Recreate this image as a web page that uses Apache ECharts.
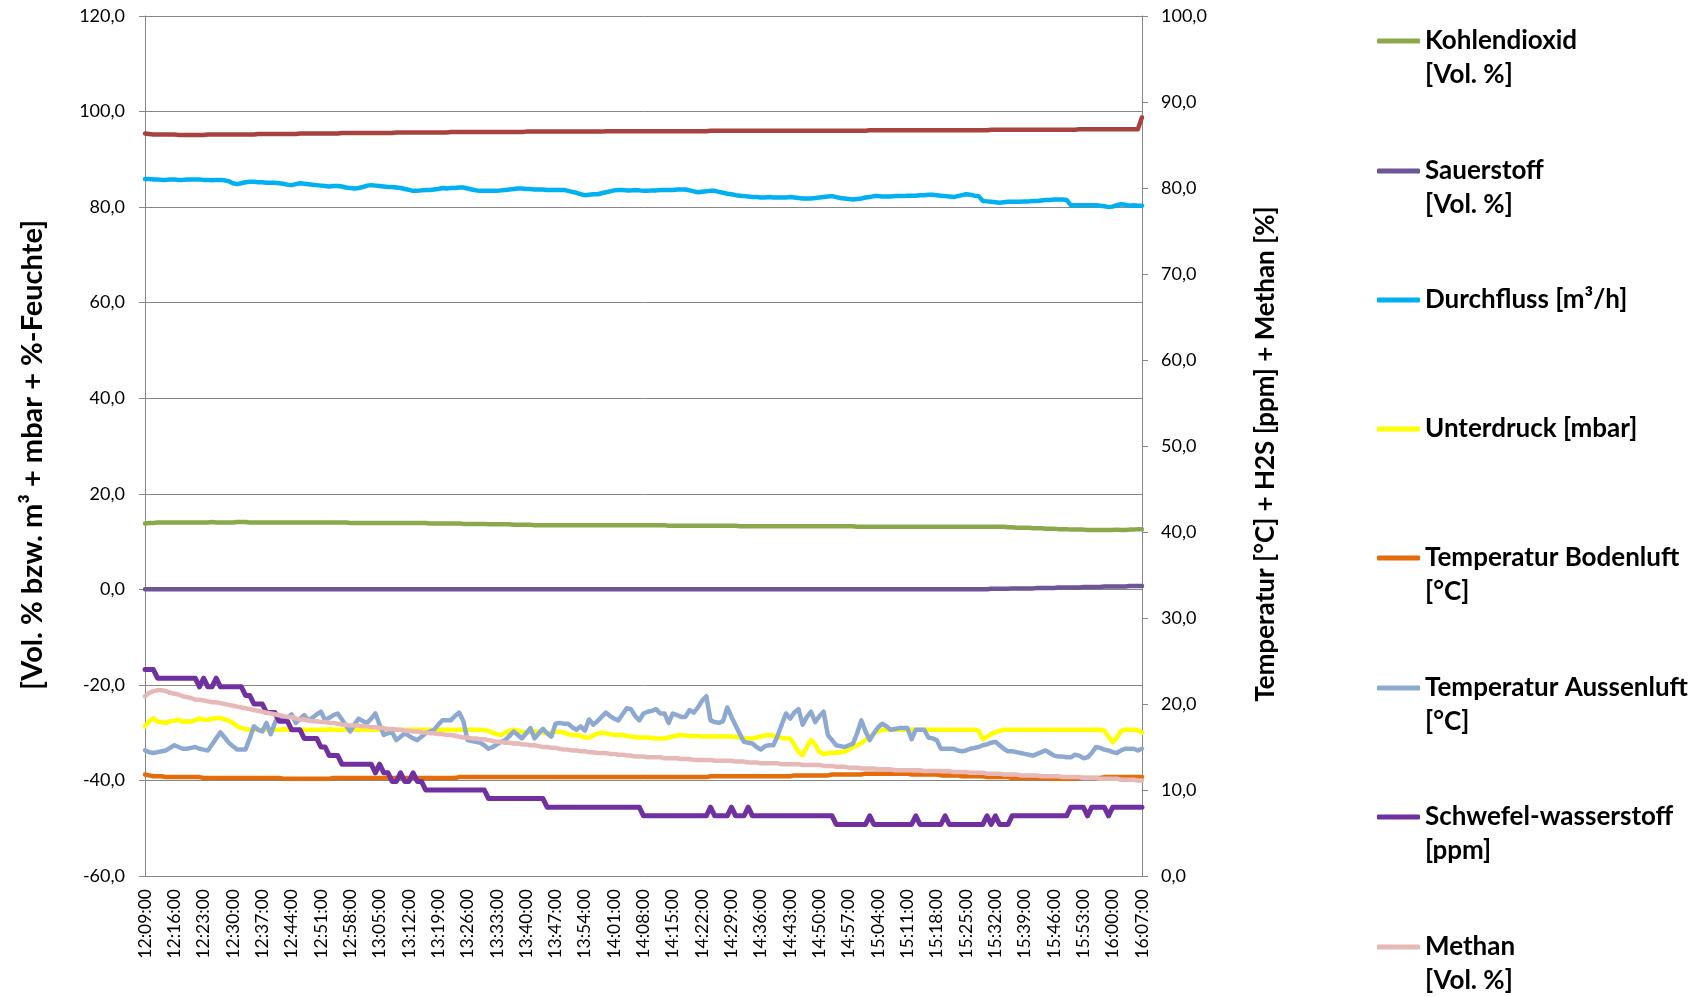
<!DOCTYPE html>
<html lang="de">
<head>
<meta charset="utf-8">
<title>Bodenluftmessung</title>
<script src="https://cdn.jsdelivr.net/npm/echarts@6/dist/echarts.min.js"></script>
<style>
  html, body { margin: 0; padding: 0; background: #fff; }
  #chart { width: 1707px; height: 997px; }
</style>
</head>
<body>
<div id="chart"></div>
<script>
// Messzeitpunkte: eine Messung pro Minute von 12:09:00 bis 16:07:00
const startTime = '12:09:00';
const sampleCount = 239;

// Achsen
const leftTicks = { min: -60, max: 120, step: 20 };
const rightTicks = { min: 0, max: 100, step: 10 };
const leftAxisTitle = '[Vol. % bzw. m³ + mbar + %-Feuchte]';
const rightAxisTitle = 'Temperatur [°C] + H2S [ppm] + Methan [%]';

// Linke Achse: Feuchte [%]
const feuchte = [
  95.4, 95.3, 95.2, 95.2, 95.2, 95.2, 95.2, 95.2, 95.1, 95.1,
  95.1, 95.1, 95.1, 95.1, 95.1, 95.2, 95.2, 95.2, 95.2, 95.2,
  95.2, 95.2, 95.2, 95.2, 95.2, 95.2, 95.2, 95.3, 95.3, 95.3,
  95.3, 95.3, 95.3, 95.3, 95.3, 95.3, 95.3, 95.4, 95.4, 95.4,
  95.4, 95.4, 95.4, 95.4, 95.4, 95.4, 95.4, 95.5, 95.5, 95.5,
  95.5, 95.5, 95.5, 95.5, 95.5, 95.5, 95.5, 95.5, 95.5, 95.5,
  95.6, 95.6, 95.6, 95.6, 95.6, 95.6, 95.6, 95.6, 95.6, 95.6,
  95.6, 95.6, 95.6, 95.7, 95.7, 95.7, 95.7, 95.7, 95.7, 95.7,
  95.7, 95.7, 95.7, 95.7, 95.7, 95.7, 95.7, 95.7, 95.7, 95.7,
  95.7, 95.8, 95.8, 95.8, 95.8, 95.8, 95.8, 95.8, 95.8, 95.8,
  95.8, 95.8, 95.8, 95.8, 95.8, 95.8, 95.8, 95.8, 95.8, 95.8,
  95.9, 95.9, 95.9, 95.9, 95.9, 95.9, 95.9, 95.9, 95.9, 95.9,
  95.9, 95.9, 95.9, 95.9, 95.9, 95.9, 95.9, 95.9, 95.9, 95.9,
  95.9, 95.9, 95.9, 95.9, 95.9, 96.0, 96.0, 96.0, 96.0, 96.0,
  96.0, 96.0, 96.0, 96.0, 96.0, 96.0, 96.0, 96.0, 96.0, 96.0,
  96.0, 96.0, 96.0, 96.0, 96.0, 96.0, 96.0, 96.0, 96.0, 96.0,
  96.0, 96.0, 96.0, 96.0, 96.0, 96.0, 96.0, 96.0, 96.0, 96.0,
  96.0, 96.0, 96.0, 96.1, 96.1, 96.1, 96.1, 96.1, 96.1, 96.1,
  96.1, 96.1, 96.1, 96.1, 96.1, 96.1, 96.1, 96.1, 96.1, 96.1,
  96.1, 96.1, 96.1, 96.1, 96.1, 96.1, 96.1, 96.1, 96.1, 96.1,
  96.1, 96.1, 96.2, 96.2, 96.2, 96.2, 96.2, 96.2, 96.2, 96.2,
  96.2, 96.2, 96.2, 96.2, 96.2, 96.2, 96.2, 96.2, 96.2, 96.2,
  96.2, 96.2, 96.2, 96.3, 96.3, 96.3, 96.3, 96.3, 96.3, 96.3,
  96.3, 96.3, 96.3, 96.3, 96.3, 96.3, 96.3, 96.3, 98.8
];

// Linke Achse: Kohlendioxid [Vol. %]
const kohlendioxid = [
  13.8, 13.9, 13.9, 14.0, 14.0, 14.0, 14.0, 14.0, 14.0, 14.0,
  14.0, 14.0, 14.0, 14.0, 14.0, 14.0, 14.1, 14.0, 14.0, 14.0,
  14.0, 14.0, 14.1, 14.1, 14.1, 14.0, 14.0, 14.0, 14.0, 14.0,
  14.0, 14.0, 14.0, 14.0, 14.0, 14.0, 14.0, 14.0, 14.0, 14.0,
  14.0, 14.0, 14.0, 14.0, 14.0, 14.0, 14.0, 14.0, 14.0, 13.9,
  13.9, 13.9, 13.9, 13.9, 13.9, 13.9, 13.9, 13.9, 13.9, 13.9,
  13.9, 13.9, 13.9, 13.9, 13.9, 13.9, 13.9, 13.9, 13.8, 13.8,
  13.8, 13.8, 13.8, 13.8, 13.8, 13.8, 13.7, 13.7, 13.7, 13.7,
  13.7, 13.7, 13.6, 13.6, 13.6, 13.6, 13.6, 13.6, 13.5, 13.5,
  13.5, 13.5, 13.5, 13.4, 13.4, 13.4, 13.4, 13.4, 13.4, 13.4,
  13.4, 13.4, 13.4, 13.4, 13.4, 13.4, 13.4, 13.4, 13.4, 13.4,
  13.4, 13.4, 13.4, 13.4, 13.4, 13.4, 13.4, 13.4, 13.4, 13.4,
  13.4, 13.4, 13.4, 13.4, 13.4, 13.3, 13.3, 13.3, 13.3, 13.3,
  13.3, 13.3, 13.3, 13.3, 13.3, 13.3, 13.3, 13.3, 13.3, 13.3,
  13.3, 13.3, 13.2, 13.2, 13.2, 13.2, 13.2, 13.2, 13.2, 13.2,
  13.2, 13.2, 13.2, 13.2, 13.2, 13.2, 13.2, 13.2, 13.2, 13.2,
  13.2, 13.2, 13.2, 13.2, 13.2, 13.2, 13.2, 13.2, 13.2, 13.2,
  13.1, 13.1, 13.1, 13.1, 13.1, 13.1, 13.1, 13.1, 13.1, 13.1,
  13.1, 13.1, 13.1, 13.1, 13.1, 13.1, 13.1, 13.1, 13.1, 13.1,
  13.1, 13.1, 13.1, 13.1, 13.1, 13.1, 13.1, 13.1, 13.1, 13.1,
  13.1, 13.1, 13.1, 13.1, 13.1, 13.1, 13.0, 13.0, 12.9, 12.9,
  12.9, 12.9, 12.8, 12.8, 12.8, 12.7, 12.7, 12.7, 12.6, 12.6,
  12.6, 12.5, 12.5, 12.5, 12.5, 12.4, 12.4, 12.4, 12.4, 12.4,
  12.4, 12.4, 12.5, 12.4, 12.4, 12.5, 12.5, 12.6, 12.6
];

// Linke Achse: Sauerstoff [Vol. %]
const sauerstoff = [
  0.0, 0.0, 0.0, 0.0, 0.0, 0.0, 0.0, 0.0, 0.0, 0.0,
  0.0, 0.0, 0.0, 0.0, 0.0, 0.0, 0.0, 0.0, 0.0, 0.0,
  0.0, 0.0, 0.0, 0.0, 0.0, 0.0, 0.0, 0.0, 0.0, 0.0,
  0.0, 0.0, 0.0, 0.0, 0.0, 0.0, 0.0, 0.0, 0.0, 0.0,
  0.0, 0.0, 0.0, 0.0, 0.0, 0.0, 0.0, 0.0, 0.0, 0.0,
  0.0, 0.0, 0.0, 0.0, 0.0, 0.0, 0.0, 0.0, 0.0, 0.0,
  0.0, 0.0, 0.0, 0.0, 0.0, 0.0, 0.0, 0.0, 0.0, 0.0,
  0.0, 0.0, 0.0, 0.0, 0.0, 0.0, 0.0, 0.0, 0.0, 0.0,
  0.0, 0.0, 0.0, 0.0, 0.0, 0.0, 0.0, 0.0, 0.0, 0.0,
  0.0, 0.0, 0.0, 0.0, 0.0, 0.0, 0.0, 0.0, 0.0, 0.0,
  0.0, 0.0, 0.0, 0.0, 0.0, 0.0, 0.0, 0.0, 0.0, 0.0,
  0.0, 0.0, 0.0, 0.0, 0.0, 0.0, 0.0, 0.0, 0.0, 0.0,
  0.0, 0.0, 0.0, 0.0, 0.0, 0.0, 0.0, 0.0, 0.0, 0.0,
  0.0, 0.0, 0.0, 0.0, 0.0, 0.0, 0.0, 0.0, 0.0, 0.0,
  0.0, 0.0, 0.0, 0.0, 0.0, 0.0, 0.0, 0.0, 0.0, 0.0,
  0.0, 0.0, 0.0, 0.0, 0.0, 0.0, 0.0, 0.0, 0.0, 0.0,
  0.0, 0.0, 0.0, 0.0, 0.0, 0.0, 0.0, 0.0, 0.0, 0.0,
  0.0, 0.0, 0.0, 0.0, 0.0, 0.0, 0.0, 0.0, 0.0, 0.0,
  0.0, 0.0, 0.0, 0.0, 0.0, 0.0, 0.0, 0.0, 0.0, 0.0,
  0.0, 0.0, 0.0, 0.0, 0.0, 0.0, 0.0, 0.0, 0.0, 0.0,
  0.0, 0.0, 0.1, 0.1, 0.1, 0.1, 0.1, 0.2, 0.2, 0.2,
  0.2, 0.2, 0.2, 0.3, 0.3, 0.3, 0.3, 0.3, 0.4, 0.4,
  0.4, 0.4, 0.4, 0.4, 0.5, 0.5, 0.5, 0.5, 0.5, 0.6,
  0.6, 0.6, 0.6, 0.6, 0.6, 0.7, 0.7, 0.7, 0.7
];

// Linke Achse: Durchfluss [m³/h]
const durchfluss = [
  85.9, 85.9, 85.8, 85.8, 85.7, 85.7, 85.8, 85.8, 85.7, 85.7,
  85.8, 85.8, 85.8, 85.8, 85.7, 85.7, 85.6, 85.7, 85.7, 85.6,
  85.4, 85.0, 84.8, 85.0, 85.2, 85.3, 85.3, 85.2, 85.2, 85.1,
  85.1, 85.1, 85.0, 84.9, 84.7, 84.6, 84.8, 85.0, 84.9, 84.8,
  84.7, 84.6, 84.5, 84.4, 84.3, 84.4, 84.4, 84.3, 84.1, 84.0,
  83.9, 84.0, 84.2, 84.5, 84.6, 84.5, 84.4, 84.3, 84.2, 84.2,
  84.1, 84.0, 83.8, 83.6, 83.4, 83.4, 83.5, 83.6, 83.6, 83.7,
  83.8, 84.0, 83.9, 84.0, 84.0, 84.1, 84.1, 83.9, 83.7, 83.5,
  83.4, 83.4, 83.4, 83.4, 83.4, 83.5, 83.6, 83.7, 83.8, 83.9,
  83.9, 83.8, 83.8, 83.7, 83.7, 83.7, 83.6, 83.6, 83.6, 83.6,
  83.6, 83.4, 83.2, 83.0, 82.7, 82.5, 82.6, 82.7, 82.7, 82.9,
  83.1, 83.3, 83.5, 83.6, 83.6, 83.5, 83.5, 83.6, 83.5, 83.4,
  83.4, 83.5, 83.5, 83.6, 83.6, 83.6, 83.6, 83.7, 83.7, 83.7,
  83.5, 83.3, 83.1, 83.2, 83.3, 83.4, 83.4, 83.2, 83.0, 82.8,
  82.7, 82.5, 82.4, 82.3, 82.2, 82.1, 82.1, 82.0, 82.0, 82.1,
  82.0, 82.0, 82.0, 82.0, 82.1, 82.0, 81.9, 81.8, 81.8, 81.8,
  81.9, 82.0, 82.1, 82.2, 82.3, 82.1, 81.9, 81.8, 81.7, 81.6,
  81.7, 81.8, 82.0, 82.1, 82.3, 82.3, 82.2, 82.2, 82.2, 82.3,
  82.3, 82.3, 82.4, 82.4, 82.4, 82.5, 82.5, 82.6, 82.6, 82.5,
  82.4, 82.3, 82.2, 82.1, 82.3, 82.5, 82.7, 82.6, 82.4, 82.3,
  81.3, 81.2, 81.1, 81.0, 80.9, 81.0, 81.1, 81.1, 81.1, 81.1,
  81.2, 81.2, 81.3, 81.3, 81.4, 81.5, 81.5, 81.6, 81.6, 81.6,
  81.5, 80.4, 80.4, 80.4, 80.4, 80.4, 80.4, 80.4, 80.3, 80.2,
  80.0, 80.1, 80.4, 80.6, 80.5, 80.3, 80.4, 80.3, 80.3
];

// Linke Achse: Unterdruck [mbar]
const unterdruck = [
  -28.7, -27.6, -27.0, -27.7, -27.8, -28.0, -27.6, -27.5, -27.3, -27.7,
  -27.6, -27.7, -27.4, -27.0, -27.3, -27.3, -27.1, -27.0, -26.9, -27.2,
  -27.5, -28.0, -28.7, -29.0, -29.3, -29.4, -29.4, -29.4, -29.4, -29.4,
  -29.4, -29.4, -29.4, -29.3, -29.4, -29.4, -29.4, -29.4, -29.4, -29.4,
  -29.4, -29.4, -29.4, -29.4, -29.3, -29.4, -29.4, -29.4, -29.4, -29.4,
  -29.4, -29.4, -29.4, -29.4, -29.4, -29.4, -29.4, -29.4, -29.4, -29.4,
  -29.4, -29.4, -29.4, -29.4, -29.4, -29.4, -29.4, -29.4, -29.4, -29.4,
  -29.4, -29.4, -29.4, -29.4, -29.4, -29.4, -29.4, -29.4, -29.4, -29.4,
  -29.4, -29.5, -29.6, -30.0, -30.3, -30.5, -30.0, -29.6, -29.4, -29.6,
  -29.8, -30.0, -29.9, -29.7, -29.8, -30.0, -30.1, -30.0, -29.8, -29.8,
  -30.0, -30.3, -30.5, -30.5, -30.7, -31.0, -31.0, -30.6, -30.2, -30.0,
  -30.1, -30.3, -30.5, -30.5, -30.5, -30.7, -30.8, -30.9, -31.0, -31.0,
  -31.0, -31.1, -31.2, -31.2, -31.2, -31.0, -30.8, -30.6, -30.5, -30.6,
  -30.7, -30.7, -30.7, -30.8, -30.8, -30.8, -30.8, -30.8, -30.8, -30.8,
  -30.8, -30.9, -31.0, -31.1, -31.2, -31.2, -31.0, -30.8, -30.6, -30.5,
  -30.6, -30.9, -31.1, -31.2, -31.2, -32.5, -34.0, -34.7, -33.0, -31.5,
  -32.5, -34.0, -34.5, -34.3, -34.2, -34.2, -34.1, -34.0, -33.5, -33.0,
  -32.6, -32.2, -31.5, -30.8, -30.2, -29.7, -29.4, -29.4, -29.4, -29.4,
  -29.4, -29.4, -29.4, -29.4, -29.4, -29.4, -29.4, -29.4, -29.4, -29.4,
  -29.4, -29.4, -29.4, -29.4, -29.4, -29.4, -29.4, -29.4, -29.4, -29.6,
  -31.4, -30.9, -30.3, -29.9, -29.6, -29.4, -29.4, -29.4, -29.4, -29.4,
  -29.4, -29.4, -29.4, -29.4, -29.4, -29.4, -29.4, -29.4, -29.4, -29.4,
  -29.4, -29.4, -29.4, -29.4, -29.4, -29.4, -29.4, -29.4, -29.4, -29.6,
  -30.8, -32.0, -31.0, -29.6, -29.4, -29.4, -29.4, -29.5, -30.0
];

// Rechte Achse: Temperatur Bodenluft [°C]
const tempBodenluft = [
  11.8, 11.7, 11.6, 11.6, 11.6, 11.5, 11.5, 11.5, 11.5, 11.5,
  11.5, 11.5, 11.5, 11.5, 11.4, 11.4, 11.4, 11.4, 11.4, 11.4,
  11.4, 11.4, 11.4, 11.4, 11.4, 11.4, 11.4, 11.4, 11.4, 11.4,
  11.4, 11.4, 11.4, 11.3, 11.3, 11.3, 11.3, 11.3, 11.3, 11.3,
  11.3, 11.3, 11.3, 11.3, 11.3, 11.4, 11.4, 11.4, 11.4, 11.4,
  11.4, 11.4, 11.4, 11.4, 11.4, 11.4, 11.4, 11.4, 11.4, 11.4,
  11.4, 11.4, 11.4, 11.4, 11.4, 11.4, 11.4, 11.4, 11.4, 11.4,
  11.4, 11.4, 11.4, 11.4, 11.4, 11.5, 11.5, 11.5, 11.5, 11.5,
  11.5, 11.5, 11.5, 11.5, 11.5, 11.5, 11.5, 11.5, 11.5, 11.5,
  11.5, 11.5, 11.5, 11.5, 11.5, 11.5, 11.5, 11.5, 11.5, 11.5,
  11.5, 11.5, 11.5, 11.5, 11.5, 11.5, 11.5, 11.5, 11.5, 11.5,
  11.5, 11.5, 11.5, 11.5, 11.5, 11.5, 11.5, 11.5, 11.5, 11.5,
  11.5, 11.5, 11.5, 11.5, 11.5, 11.5, 11.5, 11.5, 11.5, 11.5,
  11.5, 11.5, 11.5, 11.5, 11.5, 11.6, 11.6, 11.6, 11.6, 11.6,
  11.6, 11.6, 11.6, 11.6, 11.6, 11.6, 11.6, 11.6, 11.6, 11.6,
  11.6, 11.6, 11.6, 11.6, 11.6, 11.7, 11.7, 11.7, 11.7, 11.7,
  11.7, 11.7, 11.7, 11.7, 11.8, 11.8, 11.8, 11.8, 11.8, 11.8,
  11.8, 11.8, 11.9, 11.9, 11.9, 11.9, 11.9, 11.9, 11.9, 11.9,
  11.9, 11.9, 11.9, 11.8, 11.8, 11.8, 11.8, 11.8, 11.8, 11.8,
  11.7, 11.7, 11.7, 11.7, 11.7, 11.6, 11.6, 11.6, 11.6, 11.6,
  11.6, 11.5, 11.5, 11.5, 11.5, 11.5, 11.5, 11.4, 11.4, 11.4,
  11.4, 11.4, 11.4, 11.4, 11.4, 11.4, 11.3, 11.3, 11.3, 11.3,
  11.3, 11.3, 11.3, 11.4, 11.4, 11.4, 11.4, 11.4, 11.4, 11.5,
  11.5, 11.5, 11.5, 11.5, 11.5, 11.5, 11.5, 11.5, 11.5
];

// Rechte Achse: Temperatur Aussenluft [°C]
const tempAussenluft = [
  14.6, 14.4, 14.3, 14.4, 14.5, 14.6, 14.9, 15.2, 15.0, 14.8,
  14.8, 14.9, 15.0, 14.8, 14.7, 14.6, 15.3, 16.0, 16.7, 16.1,
  15.5, 15.1, 14.7, 14.7, 14.7, 16.0, 17.4, 17.0, 16.8, 17.8,
  16.5, 17.8, 18.7, 18.2, 18.4, 18.8, 17.8, 18.3, 18.7, 18.1,
  18.4, 18.8, 19.1, 18.1, 18.4, 18.7, 18.9, 18.2, 17.5, 16.8,
  17.6, 18.3, 18.0, 17.8, 18.3, 18.9, 17.6, 16.4, 16.6, 16.7,
  15.8, 16.2, 16.6, 16.3, 16.0, 15.8, 16.2, 16.6, 16.8, 17.0,
  17.6, 18.1, 18.1, 18.1, 18.6, 19.0, 18.0, 15.8, 15.7, 15.6,
  15.5, 15.2, 14.8, 15.0, 15.3, 15.6, 15.8, 16.3, 16.8, 16.4,
  16.0, 16.6, 17.2, 16.0, 16.6, 17.1, 16.6, 16.2, 17.7, 17.8,
  17.7, 17.7, 17.3, 17.0, 17.4, 16.9, 18.2, 17.6, 18.0, 18.5,
  19.0, 18.6, 18.3, 18.1, 18.8, 19.5, 19.4, 18.6, 18.1, 18.9,
  19.1, 19.2, 19.4, 18.9, 18.9, 17.8, 18.9, 18.7, 18.5, 18.5,
  19.3, 19.0, 19.6, 20.4, 20.9, 18.1, 17.9, 17.8, 18.0, 19.6,
  18.5, 17.5, 16.5, 15.6, 15.5, 15.4, 15.0, 14.7, 15.1, 15.2,
  15.2, 16.3, 17.6, 18.9, 18.3, 19.0, 19.4, 17.6, 18.5, 19.1,
  17.9, 18.6, 19.1, 16.4, 15.8, 15.2, 15.1, 15.0, 15.2, 15.4,
  16.6, 18.1, 16.8, 15.8, 16.6, 17.3, 17.7, 17.4, 17.0, 17.1,
  17.2, 17.2, 17.2, 15.9, 17.0, 17.0, 17.0, 16.1, 16.0, 15.8,
  14.8, 14.8, 14.8, 14.8, 14.6, 14.5, 14.6, 14.8, 14.9, 15.0,
  15.2, 15.3, 15.5, 15.6, 15.2, 14.8, 14.5, 14.5, 14.4, 14.3,
  14.2, 14.1, 14.0, 14.2, 14.4, 14.6, 14.3, 14.0, 13.9, 13.9,
  13.8, 13.8, 14.1, 14.0, 13.7, 13.8, 14.3, 15.0, 14.9, 14.7,
  14.6, 14.4, 14.3, 14.6, 14.8, 14.8, 14.8, 14.6, 14.8
];

// Rechte Achse: Schwefelwasserstoff [ppm]
const schwefelwasserstoff = [
  24, 24, 24, 23, 23, 23, 23, 23, 23, 23,
  23, 23, 23, 22, 23, 22, 22, 23, 22, 22,
  22, 22, 22, 22, 21, 21, 20, 20, 20, 19,
  19, 19, 18, 18, 18, 17, 17, 17, 16, 16,
  16, 16, 15, 15, 14, 14, 14, 13, 13, 13,
  13, 13, 13, 13, 13, 12, 13, 12, 12, 11,
  11, 12, 11, 11, 12, 11, 11, 10, 10, 10,
  10, 10, 10, 10, 10, 10, 10, 10, 10, 10,
  10, 10, 9, 9, 9, 9, 9, 9, 9, 9,
  9, 9, 9, 9, 9, 9, 8, 8, 8, 8,
  8, 8, 8, 8, 8, 8, 8, 8, 8, 8,
  8, 8, 8, 8, 8, 8, 8, 8, 8, 7,
  7, 7, 7, 7, 7, 7, 7, 7, 7, 7,
  7, 7, 7, 7, 7, 8, 7, 7, 7, 7,
  8, 7, 7, 7, 8, 7, 7, 7, 7, 7,
  7, 7, 7, 7, 7, 7, 7, 7, 7, 7,
  7, 7, 7, 7, 7, 6, 6, 6, 6, 6,
  6, 6, 6, 7, 6, 6, 6, 6, 6, 6,
  6, 6, 6, 6, 7, 6, 6, 6, 6, 6,
  6, 7, 6, 6, 6, 6, 6, 6, 6, 6,
  6, 7, 6, 7, 6, 6, 6, 7, 7, 7,
  7, 7, 7, 7, 7, 7, 7, 7, 7, 7,
  7, 8, 8, 8, 8, 7, 8, 8, 8, 8,
  7, 8, 8, 8, 8, 8, 8, 8, 8
];

// Rechte Achse: Methan [Vol. %]
const methan = [
  20.9, 21.3, 21.5, 21.6, 21.6, 21.5, 21.3, 21.2, 21.1, 20.9,
  20.8, 20.7, 20.5, 20.5, 20.4, 20.3, 20.2, 20.2, 20.1, 20.0,
  19.9, 19.8, 19.7, 19.6, 19.5, 19.4, 19.3, 19.2, 19.1, 19.0,
  18.9, 18.8, 18.7, 18.6, 18.5, 18.5, 18.3, 18.2, 18.2, 18.1,
  18.0, 18.0, 17.9, 17.9, 17.8, 17.8, 17.7, 17.6, 17.6, 17.5,
  17.5, 17.5, 17.4, 17.4, 17.3, 17.3, 17.2, 17.2, 17.1, 17.1,
  17.0, 17.0, 16.9, 16.9, 16.8, 16.8, 16.7, 16.7, 16.6, 16.6,
  16.5, 16.5, 16.4, 16.4, 16.3, 16.2, 16.1, 16.1, 16.0, 16.0,
  15.9, 15.9, 15.8, 15.7, 15.6, 15.6, 15.5, 15.5, 15.4, 15.4,
  15.3, 15.3, 15.2, 15.2, 15.1, 15.0, 15.0, 14.9, 14.9, 14.8,
  14.7, 14.7, 14.6, 14.6, 14.5, 14.5, 14.4, 14.4, 14.3, 14.3,
  14.3, 14.2, 14.2, 14.1, 14.1, 14.0, 14.0, 13.9, 13.9, 13.9,
  13.8, 13.8, 13.8, 13.8, 13.7, 13.7, 13.7, 13.7, 13.6, 13.6,
  13.6, 13.5, 13.5, 13.5, 13.5, 13.5, 13.4, 13.4, 13.4, 13.4,
  13.4, 13.3, 13.3, 13.3, 13.2, 13.2, 13.2, 13.1, 13.1, 13.1,
  13.1, 13.1, 13.0, 13.0, 13.0, 13.0, 13.0, 12.9, 12.9, 12.9,
  12.9, 12.9, 12.8, 12.8, 12.8, 12.7, 12.7, 12.7, 12.6, 12.6,
  12.6, 12.5, 12.5, 12.5, 12.5, 12.4, 12.4, 12.4, 12.4, 12.3,
  12.3, 12.3, 12.3, 12.3, 12.3, 12.3, 12.2, 12.2, 12.2, 12.2,
  12.2, 12.2, 12.2, 12.1, 12.1, 12.1, 12.1, 12.0, 12.0, 12.0,
  12.0, 11.9, 11.9, 11.9, 11.9, 11.8, 11.8, 11.8, 11.8, 11.7,
  11.7, 11.7, 11.7, 11.7, 11.6, 11.6, 11.6, 11.6, 11.6, 11.5,
  11.5, 11.5, 11.5, 11.5, 11.4, 11.4, 11.4, 11.4, 11.3, 11.3,
  11.3, 11.3, 11.3, 11.2, 11.2, 11.2, 11.2, 11.1, 11.1
];

// Minutenraster als Kategorien der Zeitachse
function buildTimes(start, count) {
  const [h, m, s] = start.split(':').map(Number);
  const out = [];
  for (let k = 0; k < count; k++) {
    const t = h * 60 + m + k;
    const hh = String(Math.floor(t / 60)).padStart(2, '0');
    const mm = String(t % 60).padStart(2, '0');
    out.push(hh + ':' + mm + ':' + String(s).padStart(2, '0'));
  }
  return out;
}
const zeiten = buildTimes(startTime, sampleCount);

const FONT = 'Lato, "Open Sans", sans-serif';
const fmtDe = v => v.toFixed(1).replace('.', ',');

// Reihenfolge = Zeichenreihenfolge
const reihen = [
  { name: 'Feuchte', label: null, data: feuchte, axis: 0, color: '#A8423F', width: 4.5 },
  { name: 'Kohlendioxid', label: 'Kohlendioxid\n[Vol. %]', data: kohlendioxid, axis: 0, color: '#8BA84C', width: 4.5 },
  { name: 'Sauerstoff', label: 'Sauerstoff\n[Vol. %]', data: sauerstoff, axis: 0, color: '#6C5694', width: 4.5 },
  { name: 'Durchfluss', label: 'Durchfluss [m³/h]', data: durchfluss, axis: 0, color: '#00B0F0', width: 4.5 },
  { name: 'Unterdruck', label: 'Unterdruck [mbar]', data: unterdruck, axis: 0, color: '#FFFF00', width: 4.5 },
  { name: 'Temperatur Bodenluft', label: 'Temperatur Bodenluft\n[°C]', data: tempBodenluft, axis: 1, color: '#E46C0A', width: 4.5 },
  { name: 'Temperatur Aussenluft', label: 'Temperatur Aussenluft\n[°C]', data: tempAussenluft, axis: 1, color: '#8EA9D1', width: 4.5 },
  { name: 'Schwefelwasserstoff', label: 'Schwefel-wasserstoff\n[ppm]', data: schwefelwasserstoff, axis: 1, color: '#7030A0', width: 5 },
  { name: 'Methan', label: 'Methan\n[Vol. %]', data: methan, axis: 1, color: '#E6B9B8', width: 4.5 }
];

// Legende: ein Eintrag je Block, Linie auf Höhe der ersten Textzeile
const legendCenters = [41, 171, 300, 429, 558, 688, 817, 947];
const LEG_LINE = 34;
const legendReihen = reihen.filter(r => r.label);
const legends = legendReihen.map((r, k) => {
  const zweizeilig = r.label.indexOf('\n') >= 0;
  const boxH = zweizeilig ? LEG_LINE * 3 : LEG_LINE;
  return {
    show: true,
    orient: 'vertical',
    left: 1377,
    top: legendCenters[k] - boxH / 2,
    padding: 0,
    selectedMode: false,
    icon: 'roundRect',
    itemWidth: 43,
    itemHeight: 5,
    data: [r.name],
    formatter: () => (zweizeilig ? '\n' + r.label : r.label),
    textStyle: {
      fontFamily: FONT, fontWeight: 'bold', fontSize: 26,
      lineHeight: LEG_LINE, color: '#000'
    }
  };
});

const gridGray = '#878787';

const chart = echarts.init(document.getElementById('chart'), null, { renderer: 'canvas' });
chart.setOption({
  animation: false,
  backgroundColor: '#ffffff',
  grid: { left: 145, right: 565, top: 16, bottom: 121, containLabel: false },
  legend: legends,
  xAxis: {
    type: 'category',
    data: zeiten,
    boundaryGap: false,
    axisLine: { lineStyle: { color: gridGray, width: 1 } },
    axisTick: { show: false },
    axisLabel: {
      interval: 6, rotate: 90, margin: 13,
      fontFamily: FONT, fontSize: 17.5, color: '#000'
    },
    splitLine: { show: false }
  },
  yAxis: [
    {
      type: 'value', position: 'left',
      min: leftTicks.min, max: leftTicks.max, interval: leftTicks.step,
      name: leftAxisTitle, nameLocation: 'middle', nameRotate: 90, nameGap: 98,
      nameTextStyle: {
        fontFamily: FONT, fontWeight: 'bold', fontSize: 29, color: '#000',
        padding: [0, 18, 0, 0]
      },
      axisLine: { show: true, lineStyle: { color: gridGray, width: 1 } },
      axisTick: { show: true, length: 6, lineStyle: { color: gridGray } },
      axisLabel: { margin: 20, formatter: fmtDe, fontFamily: FONT, fontSize: 18, color: '#000' },
      splitLine: { show: true, lineStyle: { color: gridGray, width: 1 } }
    },
    {
      type: 'value', position: 'right',
      min: rightTicks.min, max: rightTicks.max, interval: rightTicks.step,
      name: rightAxisTitle, nameLocation: 'middle', nameRotate: 90, nameGap: 111,
      nameTextStyle: {
        fontFamily: FONT, fontWeight: 'bold', fontSize: 26, color: '#000',
        padding: [0, 16, 0, 0]
      },
      axisLine: { show: true, lineStyle: { color: gridGray, width: 1 } },
      axisTick: { show: true, length: 6, lineStyle: { color: gridGray } },
      axisLabel: { margin: 19, formatter: fmtDe, fontFamily: FONT, fontSize: 18, color: '#000' },
      splitLine: { show: false }
    }
  ],
  series: reihen.map(r => ({
    name: r.name,
    type: 'line',
    yAxisIndex: r.axis,
    data: r.data,
    showSymbol: false,
    symbol: 'none',
    smooth: false,
    itemStyle: { color: r.color },
    lineStyle: { color: r.color, width: r.width, cap: 'round', join: 'round' },
    emphasis: { disabled: true }
  }))
});
</script>
</body>
</html>
